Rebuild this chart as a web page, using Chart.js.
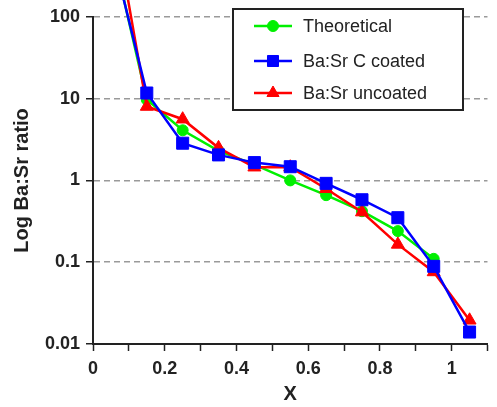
<!DOCTYPE html>
<html>
<head>
<meta charset="utf-8">
<script src="https://cdn.jsdelivr.net/npm/chart.js@4/dist/chart.umd.min.js"></script>
<style>
  body { margin: 0; background: #fff; }
  canvas { display: block; }
</style>
</head>
<body>
<canvas id="chart" width="497" height="407"></canvas>
<script>
const xValues = [0.05, 0.15, 0.25, 0.35, 0.45, 0.55, 0.65, 0.75, 0.85, 0.95, 1.05];
const theoretical = [800, 9.7, 4.1, 2.3, 1.56, 1.0, 0.66, 0.42, 0.24, 0.11, null];
const coated = [700, 11.7, 2.85, 2.05, 1.65, 1.47, 0.92, 0.58, 0.35, 0.089, 0.014];
const uncoated = [2500, 8.0, 5.6, 2.5, 1.45, 1.45, 0.79, 0.41, 0.165, 0.076, 0.0195];

const seriesLabels = ['Theoretical', 'Ba:Sr C coated', 'Ba:Sr uncoated'];

const xTicks = [0, 0.1, 0.2, 0.3, 0.4, 0.5, 0.6, 0.7, 0.8, 0.9, 1.0, 1.1];
const xTickLabels = ['0', '', '0.2', '', '0.4', '', '0.6', '', '0.8', '', '1', ''];
const yTicks = [0.01, 0.1, 1, 10, 100];
const yTickLabels = ['0.01', '0.1', '1', '10', '100'];

const GREEN = '#00f000';
const BLUE = '#0000ff';
const RED = '#ff0000';
const AXIS = '#222';

function toPoints(ys) {
    return xValues.map((x, i) => ({ x: x, y: ys[i] })).filter(p => p.y !== null);
}

function makeSet(label, ys, color, style, radius, order) {
    return {
        label: label,
        data: toPoints(ys),
        borderColor: color,
        backgroundColor: color,
        borderWidth: 2.5,
        pointStyle: style,
        pointRadius: radius,
        pointBorderWidth: 1,
        pointBorderColor: color,
        pointBackgroundColor: color,
        tension: 0,
        order: order,
        clip: { left: 0, top: 20, right: 0, bottom: 0 }
    };
}

// legend drawn inside the plot, boxed
const boxLegend = {
    id: 'boxLegend',
    afterDraw(chart) {
        const ctx = chart.ctx;
        const bx = 233, by = 9, bw = 230, bh = 101;
        ctx.save();
        ctx.fillStyle = '#fff';
        ctx.fillRect(bx, by, bw, bh);
        ctx.lineWidth = 2;
        ctx.strokeStyle = AXIS;
        ctx.strokeRect(bx, by, bw, bh);
        const rows = [26, 61, 93];
        const sizes = [5.5, 7.8, 7];
        chart.data.datasets.forEach((ds, i) => {
            const y = rows[i];
            ctx.strokeStyle = ds.borderColor;
            ctx.fillStyle = ds.borderColor;
            ctx.lineWidth = 2.5;
            ctx.beginPath();
            ctx.moveTo(254, y);
            ctx.lineTo(292, y);
            ctx.stroke();
            ctx.lineWidth = 1;
            Chart.helpers.drawPoint(ctx, { pointStyle: ds.pointStyle, radius: sizes[i], rotation: 0, borderWidth: 1 }, 273, y);
            ctx.fillStyle = AXIS;
            ctx.font = '18px "Liberation Sans", Arial, sans-serif';
            ctx.textBaseline = 'middle';
            ctx.textAlign = 'left';
            ctx.fillText(ds.label, 303, y + 1);
        });
        ctx.restore();
    }
};

const ctx = document.getElementById('chart').getContext('2d');
new Chart(ctx, {
    type: 'line',
    data: {
        datasets: [
            makeSet(seriesLabels[0], theoretical, GREEN, 'circle', 5.5, 3),
            makeSet(seriesLabels[1], coated, BLUE, 'rect', 8.5, 1),
            makeSet(seriesLabels[2], uncoated, RED, 'triangle', 7.5, 2)
        ]
    },
    options: {
        responsive: false,
        devicePixelRatio: 1,
        animation: false,
        layout: { padding: { top: 14, right: 0, bottom: 0, left: 0 } },
        plugins: {
            legend: { display: false },
            tooltip: { enabled: false }
        },
        scales: {
            x: {
                type: 'linear',
                min: 0,
                max: 1.1,
                afterBuildTicks: (scale) => { scale.ticks = xTicks.map(v => ({ value: v })); },
                afterFit: (scale) => { scale.height = 63; },
                ticks: {
                    autoSkip: false,
                    maxRotation: 0,
                    padding: 7,
                    color: AXIS,
                    font: { family: '"Liberation Sans", Arial, sans-serif', size: 18, weight: 'bold' },
                    callback: (v, i) => xTickLabels[i]
                },
                grid: {
                    drawOnChartArea: false,
                    drawTicks: true,
                    tickLength: 7,
                    tickColor: AXIS,
                    tickWidth: 1.5
                },
                border: { color: AXIS, width: 2 },
                title: {
                    display: true,
                    text: 'X',
                    color: AXIS,
                    padding: { top: 0, bottom: 1 },
                    font: { family: '"Liberation Sans", Arial, sans-serif', size: 20, weight: 'bold' }
                }
            },
            y: {
                type: 'logarithmic',
                min: 0.01,
                max: 100,
                afterBuildTicks: (scale) => { scale.ticks = yTicks.map(v => ({ value: v })); },
                afterFit: (scale) => { scale.width = 93; },
                ticks: {
                    autoSkip: false,
                    padding: 6,
                    color: AXIS,
                    font: { family: '"Liberation Sans", Arial, sans-serif', size: 18, weight: 'bold' },
                    callback: (v, i) => yTickLabels[i]
                },
                grid: {
                    color: (c) => (c.tick && c.tick.value === 0.01) ? 'rgba(0,0,0,0)' : '#9a9a9a',
                    lineWidth: 1.5,
                    drawTicks: true,
                    tickLength: 7,
                    tickColor: AXIS,
                    tickWidth: 1.5,
                    tickBorderDash: []
                },
                border: { color: AXIS, width: 2, dash: [6, 4] },
                title: {
                    display: true,
                    text: 'Log Ba:Sr ratio',
                    color: AXIS,
                    padding: { top: 10, bottom: 0 },
                    font: { family: '"Liberation Sans", Arial, sans-serif', size: 20, weight: 'bold' }
                }
            }
        }
    },
    plugins: [boxLegend]
});
</script>
</body>
</html>
